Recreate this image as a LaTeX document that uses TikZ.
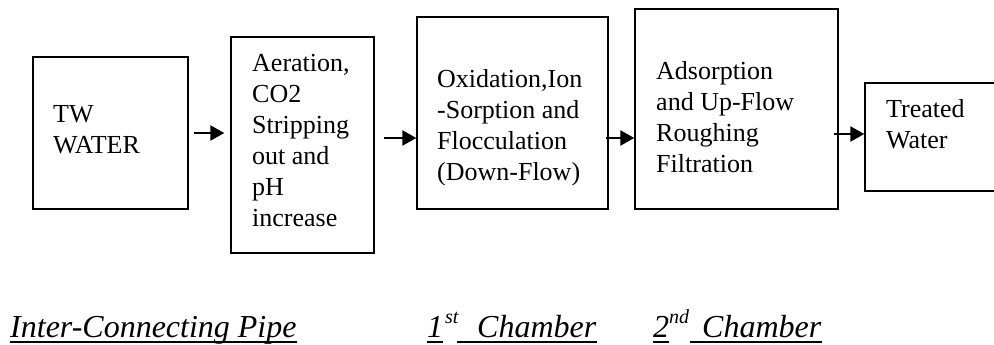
\documentclass[tikz,border=0pt]{standalone}
\usepackage{fontspec}
\setmainfont{Liberation Serif}
\usetikzlibrary{arrows.meta}
\tikzset{
  stage/.style={draw, line width=1.4pt, rectangle, inner sep=0pt},
  txt/.style={inner sep=0pt, anchor=base west, align=left,
    font=\fontsize{26}{31}\selectfont},
  lab/.style={inner sep=0pt, anchor=base west,
    font=\fontsize{32}{36}\selectfont\itshape},
  flow/.style={line width=2.5pt, -{Triangle[length=14pt,width=15pt]}},
  uline/.style={line width=1.8pt}
}
\begin{document}
\begin{tikzpicture}[x=1pt,y=-1pt]
\useasboundingbox (0,0) rectangle (994,345);

% process stages
\node[stage, minimum width=155pt, minimum height=152pt] (b1) at (110.5,133) {};
\node[stage, minimum width=143pt, minimum height=216pt] (b2) at (302.5,145) {};
\node[stage, minimum width=191pt, minimum height=192pt] (b3) at (512.5,113) {};
\node[stage, minimum width=203pt, minimum height=200pt] (b4) at (736.5,109) {};
\node[stage, minimum width=140pt, minimum height=108pt] (b5) at (935,137) {};

% stage texts (placed by the baseline of their last line)
\node[txt] (t1) at (53,153) {TW\\WATER};
\node[txt] (t2) at (252,226) {Aeration,\\CO2\\Stripping\\out and\\pH\\increase};
\node[txt] (t3) at (437,180) {Oxidation,Ion\\-Sorption and\\Flocculation\\(Down-Flow)};
\node[txt] (t4) at (656,172) {Adsorption\\and Up-Flow\\Roughing\\Filtration};
\node[txt] (t5) at (886,148) {Treated\\Water};

% flow arrows
\draw[flow] ([shift={(5,0)}]b1.east) coordinate (a1) -- ([shift={(-6,0)}]a1 -| b2.west);
\draw[flow] ([shift={(9,-7)}]b2.east) coordinate (a2) -- (a2 -| b3.west);
\draw[flow] ([shift={(-3,25)}]b3.east) coordinate (a3) -- (a3 -| b4.west);
\draw[flow] ([shift={(-5,25)}]b4.east) coordinate (a4) -- (a4 -| b5.west);

% bottom labels
\node[lab] (p1) at (10,337) {Inter-Connecting Pipe};
\node[lab] (c1n) at (427,337) {1};
\node[lab, font=\fontsize{20}{22}\selectfont\itshape] (c1s) at (445,323) {st};
\node[lab] (c1t) at (477,337) {Chamber};
\node[lab] (c2n) at (653,337) {2};
\node[lab, font=\fontsize{20}{22}\selectfont\itshape] (c2s) at (669,323) {nd};
\node[lab] (c2t) at (702,337) {Chamber};

% underlines
\draw[uline] ([shift={(0,5)}]p1.base west) -- ([shift={(0,5)}]p1.base east);
\draw[uline] ([shift={(0,5)}]c1n.base west) -- ([shift={(0,5)}]c1n.base east);
\draw[uline] ([shift={(-20,5)}]c1t.base west) -- ([shift={(0,5)}]c1t.base east);
\draw[uline] ([shift={(0,5)}]c2n.base west) -- ([shift={(0,5)}]c2n.base east);
\draw[uline] ([shift={(-12,5)}]c2t.base west) -- ([shift={(0,5)}]c2t.base east);
\end{tikzpicture}
\end{document}
